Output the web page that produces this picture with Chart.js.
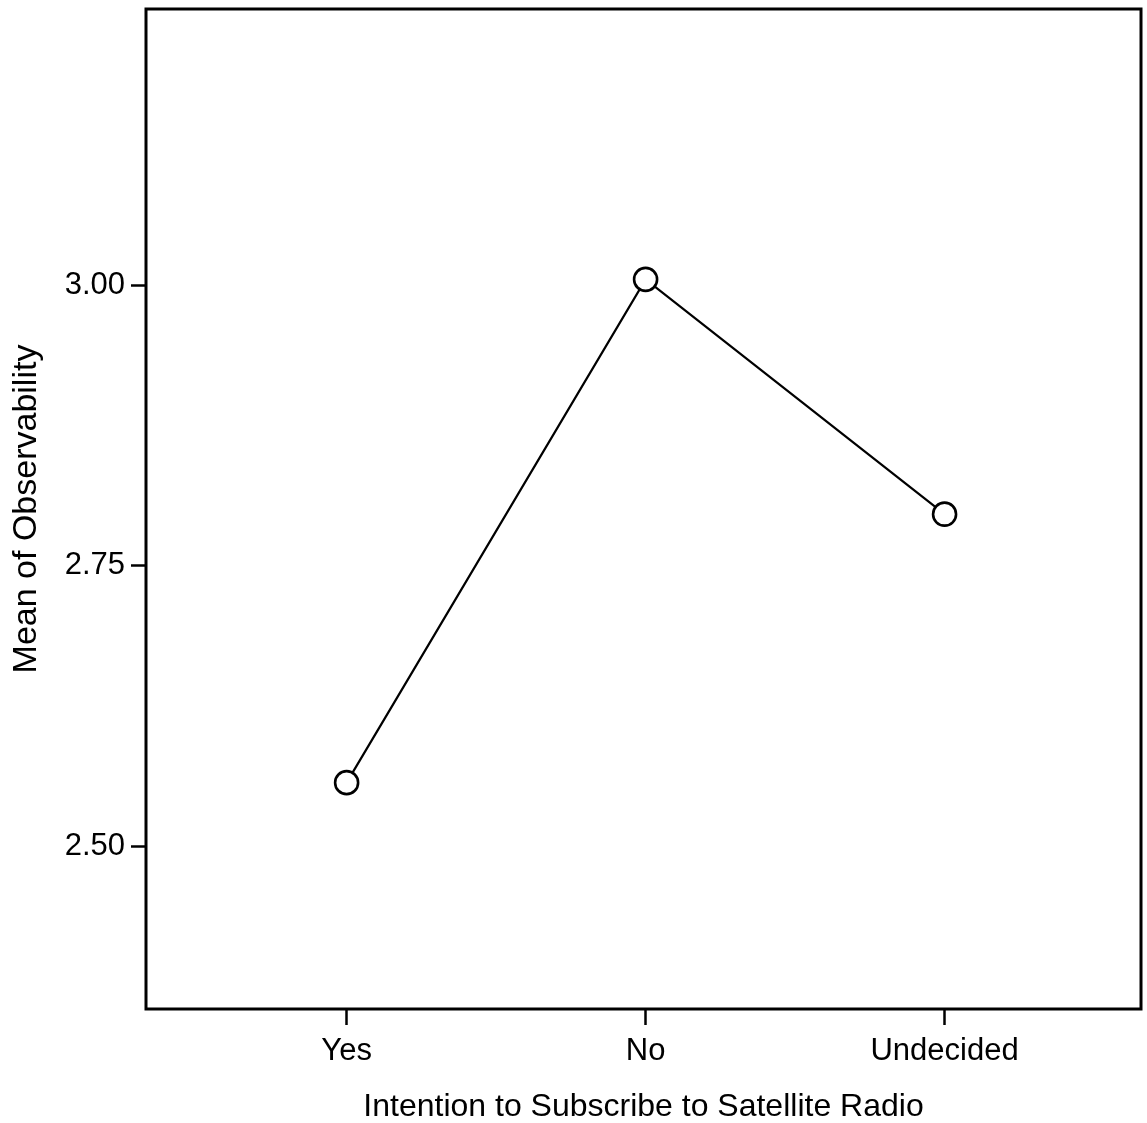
<!DOCTYPE html>
<html>
<head>
<meta charset="utf-8">
<script src="https://cdn.jsdelivr.net/npm/chart.js@4.4.1/dist/chart.umd.min.js"></script>
<style>
    html, body { margin: 0; padding: 0; background: #fff; overflow: hidden; }
    #wrap { width: 1147px; height: 1123px; }
</style>
</head>
<body>
<div id="wrap"><canvas id="myChart"></canvas></div>
<script>
const categories = ['Yes', 'No', 'Undecided'];
const means = [2.557, 3.005, 2.796];
const yTicks = [2.50, 2.75, 3.00];

const font = 'Liberation Sans, Arial, sans-serif';

// frame around the plot area
const framePlugin = {
    id: 'frame',
    afterDraw: (chart) => {
        const a = chart.chartArea;
        const ctx = chart.ctx;
        ctx.save();
        ctx.strokeStyle = '#000';
        ctx.lineWidth = 3;
        ctx.strokeRect(a.left, a.top, a.right - a.left, a.bottom - a.top);
        ctx.restore();
    }
};

const data = {
    datasets: [{
        label: 'Mean of Observability',
        data: categories.map((c, i) => ({x: i, y: means[i]})),
        borderColor: '#000',
        borderWidth: 2.2,
        pointRadius: 11.5,
        pointBorderWidth: 2.6,
        pointBackgroundColor: '#fff',
        pointBorderColor: '#000',
        showLine: true,
        tension: 0
    }]
};

const config = {
    type: 'scatter',
    data: data,
    options: {
        responsive: true,
        maintainAspectRatio: false,
        animation: false,
        layout: { autoPadding: false, padding: { top: 9, right: 6, left: 0, bottom: 0 } },
        plugins: { legend: { display: false }, tooltip: { enabled: false } },
        scales: {
            x: {
                type: 'linear',
                min: -0.671,
                max: 2.657,
                afterBuildTicks: (s) => { s.ticks = categories.map((c, i) => ({value: i})); },
                afterFit: (s) => { s.height = 114; s.paddingLeft = 0; s.paddingRight = 0; },
                ticks: {
                    callback: (v) => categories[v],
                    color: '#000',
                    font: { family: font, size: 31 },
                    padding: 8,
                    maxRotation: 0
                },
                grid: { drawOnChartArea: false, drawTicks: true, tickLength: 16, color: '#000', tickWidth: 2.5 },
                border: { display: false },
                title: {
                    display: true,
                    text: 'Intention to Subscribe to Satellite Radio',
                    color: '#000',
                    font: { family: font, size: 32, lineHeight: 1.0 },
                    padding: { top: 0, bottom: 0 }
                }
            },
            y: {
                min: 2.3555,
                max: 3.2457,
                afterBuildTicks: (s) => { s.ticks = yTicks.map(v => ({value: v})); },
                afterFit: (s) => { s.width = 146; s.paddingTop = 0; s.paddingBottom = 0; },
                ticks: {
                    callback: (v) => v.toFixed(2),
                    color: '#000',
                    font: { family: font, size: 31 },
                    padding: 6
                },
                grid: { drawOnChartArea: false, drawTicks: true, tickLength: 15, color: '#000', tickWidth: 2.5 },
                border: { display: false },
                title: {
                    display: true,
                    text: 'Mean of Observability',
                    color: '#000',
                    font: { family: font, size: 34, lineHeight: 1.0 },
                    padding: { top: 10, bottom: 0 }
                }
            }
        }
    },
    plugins: [framePlugin]
};

var myChart = new Chart(document.getElementById('myChart'), config);
</script>
</body>
</html>
